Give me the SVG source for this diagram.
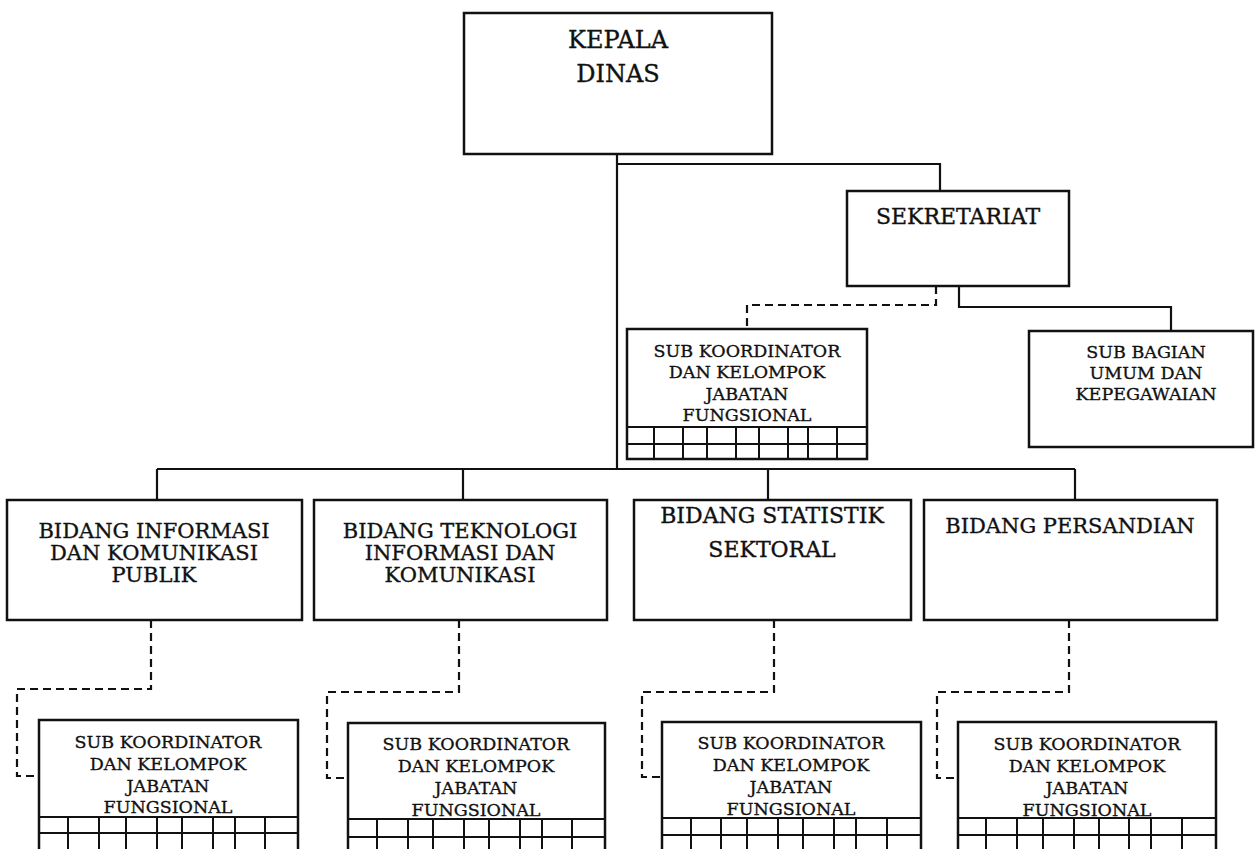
<svg xmlns="http://www.w3.org/2000/svg" width="1255" height="849" viewBox="0 0 1255 849">
<style>
.box{fill:#fff;stroke:#111;stroke-width:2.5}
.ln{fill:none;stroke:#111;stroke-width:2.2}
.ds{fill:none;stroke:#111;stroke-width:2.2;stroke-dasharray:8 5}
.g{fill:none;stroke:#111;stroke-width:2}
text{font-family:"DejaVu Serif","Liberation Serif",serif;fill:#111;stroke:#111;stroke-width:0.35;text-anchor:middle}
.t24{font-size:24px}
.t22{font-size:22px}
.t20{font-size:21px}
.t17{font-size:17.5px}
</style>
<rect width="1255" height="849" fill="#fff"/>
<g id="connectors">
<path class="ln" d="M617,154 V470"/>
<path class="ln" d="M617,164 H940 V191"/>
<path class="ds" d="M936,286 V305 H747 V329"/>
<path class="ln" d="M959,286 V307 H1171 V331"/>
<path class="ln" d="M157,469 H1075"/>
<path class="ln" d="M157,469 V500 M463,469 V500 M768,469 V500 M1075,469 V500"/>
<path class="ds" d="M151,620 V689 H17 V776 H39"/>
<path class="ds" d="M459,620 V692 H327 V778 H348"/>
<path class="ds" d="M774,620 V692 H642 V777 H662"/>
<path class="ds" d="M1069,620 V692 H937 V778 H958"/>
</g>
<g id="kepala-dinas">
<rect class="box" x="464" y="13" width="308" height="141"/>
<text class="t24" x="618" y="48">KEPALA</text>
<text class="t24" x="618" y="82">DINAS</text>
</g>
<g id="sekretariat">
<rect class="box" x="847" y="191" width="222" height="95"/>
<text class="t22" x="958" y="224">SEKRETARIAT</text>
</g>
<g id="sub-koordinator-sekretariat">
<rect class="box" x="627" y="329" width="240" height="130"/>
<path class="g" d="M627,427 H867 M627,444 H867 M654,427 V459 M683,427 V459 M707,427 V459 M736,427 V459 M759,427 V459 M788,427 V459 M808,427 V459 M837,427 V459"/>
<text class="t17" x="747" y="357">SUB KOORDINATOR</text>
<text class="t17" x="747" y="378">DAN KELOMPOK</text>
<text class="t17" x="747" y="400">JABATAN</text>
<text class="t17" x="747" y="421">FUNGSIONAL</text>
</g>
<g id="sub-bagian">
<rect class="box" x="1029" y="331" width="224" height="116"/>
<text class="t17" x="1146" y="358">SUB BAGIAN</text>
<text class="t17" x="1146" y="379">UMUM DAN</text>
<text class="t17" x="1146" y="400">KEPEGAWAIAN</text>
</g>
<g id="bidang-ikp">
<rect class="box" x="7" y="500" width="295" height="120"/>
<text class="t20" x="154" y="538">BIDANG INFORMASI</text>
<text class="t20" x="154" y="560">DAN KOMUNIKASI</text>
<text class="t20" x="154" y="582">PUBLIK</text>
</g>
<g id="bidang-tik">
<rect class="box" x="314" y="500" width="293" height="120"/>
<text class="t20" x="460" y="538">BIDANG TEKNOLOGI</text>
<text class="t20" x="460" y="560">INFORMASI DAN</text>
<text class="t20" x="460" y="582">KOMUNIKASI</text>
</g>
<g id="bidang-statistik">
<rect class="box" x="634" y="500" width="277" height="120"/>
<text class="t22" x="772" y="523">BIDANG STATISTIK</text>
<text class="t22" x="772" y="557">SEKTORAL</text>
</g>
<g id="bidang-persandian">
<rect class="box" x="924" y="500" width="293" height="120"/>
<text class="t20" x="1070" y="533">BIDANG PERSANDIAN</text>
</g>
<g id="sub-koordinator-1">
<rect class="box" x="39" y="720" width="259" height="140"/>
<path class="g" d="M39,817 H298 M39,833 H298 M68,817 V849 M99,817 V849 M126,817 V849 M157,817 V849 M182,817 V849 M213,817 V849 M235,817 V849 M265,817 V849"/>
<text class="t17" x="168" y="748">SUB KOORDINATOR</text>
<text class="t17" x="168" y="770">DAN KELOMPOK</text>
<text class="t17" x="168" y="792">JABATAN</text>
<text class="t17" x="168" y="813">FUNGSIONAL</text>
</g>
<g id="sub-koordinator-2">
<rect class="box" x="348" y="723" width="257" height="140"/>
<path class="g" d="M348,819 H605 M348,837 H605 M377,819 V849 M408,819 V849 M433,819 V849 M464,819 V849 M489,819 V849 M520,819 V849 M542,819 V849 M572,819 V849"/>
<text class="t17" x="476" y="750">SUB KOORDINATOR</text>
<text class="t17" x="476" y="772">DAN KELOMPOK</text>
<text class="t17" x="476" y="794">JABATAN</text>
<text class="t17" x="476" y="816">FUNGSIONAL</text>
</g>
<g id="sub-koordinator-3">
<rect class="box" x="662" y="722" width="259" height="140"/>
<path class="g" d="M662,818 H921 M662,835 H921 M691,818 V849 M721,818 V849 M747,818 V849 M778,818 V849 M803,818 V849 M834,818 V849 M856,818 V849 M887,818 V849"/>
<text class="t17" x="791" y="749">SUB KOORDINATOR</text>
<text class="t17" x="791" y="771">DAN KELOMPOK</text>
<text class="t17" x="791" y="793">JABATAN</text>
<text class="t17" x="791" y="815">FUNGSIONAL</text>
</g>
<g id="sub-koordinator-4">
<rect class="box" x="958" y="722" width="258" height="140"/>
<path class="g" d="M958,818 H1216 M958,835 H1216 M986,818 V849 M1017,818 V849 M1043,818 V849 M1074,818 V849 M1099,818 V849 M1129,818 V849 M1151,818 V849 M1182,818 V849"/>
<text class="t17" x="1087" y="750">SUB KOORDINATOR</text>
<text class="t17" x="1087" y="772">DAN KELOMPOK</text>
<text class="t17" x="1087" y="794">JABATAN</text>
<text class="t17" x="1087" y="816">FUNGSIONAL</text>
</g>
</svg>
